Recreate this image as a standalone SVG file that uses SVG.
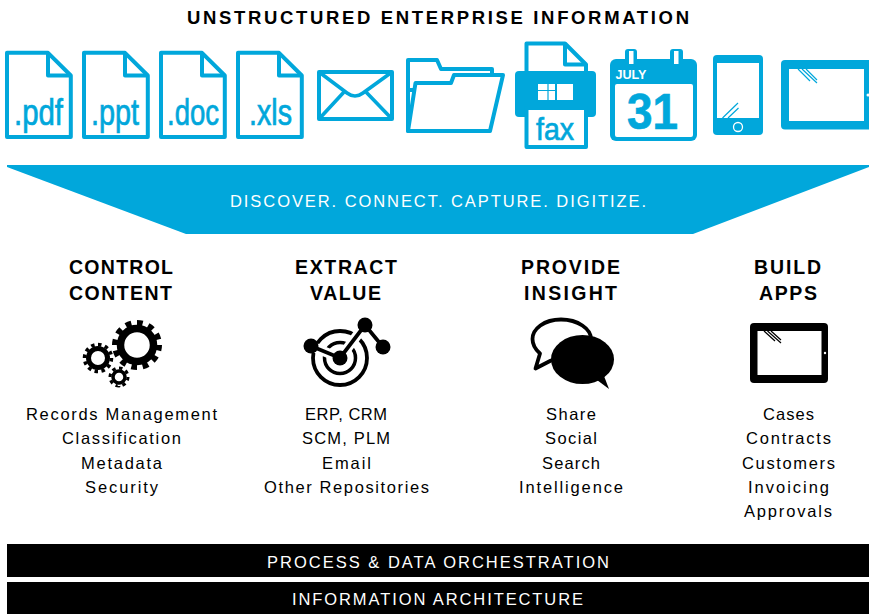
<svg xmlns="http://www.w3.org/2000/svg" width="869" height="614" viewBox="0 0 869 614">
<style>
text{font-family:"Liberation Sans",Arial,sans-serif}
.fill{fill:#01a7db}
.ol{fill:#fff;stroke:#01a7db;stroke-width:4;stroke-linejoin:round}
.gl{fill:none;stroke:#01a7db;stroke-width:1.2}
.ft{fill:#01a7db;font-size:36px;stroke:#01a7db;stroke-width:.7}
.t{font-size:18.5px;font-weight:700;fill:#000}
.h{font-size:19.5px;font-weight:700;fill:#000}
.b{font-size:16.5px;fill:#000}
.w{fill:#fff;font-size:16.5px}
.gw{fill:none;stroke:#fff}
.k{fill:#000}
.kl{fill:none;stroke:#000}
</style>
<defs>
<path id="doc" class="ol" d="M7 52.800H48L70.800 75.500V137H7Z"/>
<path id="fold" fill="none" stroke="#01a7db" stroke-width="4" stroke-linejoin="round" d="M48 52.800V75.500H70.800"/>
</defs>
<rect width="869" height="614" fill="#fff"/>
<text id="title" class="t" x="187" y="23.500" textLength="502">UNSTRUCTURED ENTERPRISE INFORMATION</text>

<g id="file-pdf"><use href="#doc"/><use href="#fold"/><text class="ft" x="14" y="125" textLength="49" lengthAdjust="spacingAndGlyphs">.pdf</text></g>
<g id="file-ppt"><use href="#doc" x="77"/><use href="#fold" x="77"/><text class="ft" x="91" y="125" textLength="48" lengthAdjust="spacingAndGlyphs">.ppt</text></g>
<g id="file-doc"><use href="#doc" x="154"/><use href="#fold" x="154"/><text class="ft" x="167" y="125" textLength="52" lengthAdjust="spacingAndGlyphs">.doc</text></g>
<g id="file-xls"><use href="#doc" x="231"/><use href="#fold" x="231"/><text class="ft" x="249" y="125" textLength="43" lengthAdjust="spacingAndGlyphs">.xls</text></g>

<g id="email">
<rect class="ol" x="319" y="72" width="73" height="47"/>
<path fill="none" stroke="#01a7db" stroke-width="3.600" d="M319 72L347 93Q355 99 363 93L392 72M319 119L344 92M392 119L366 92"/>
</g>

<g id="folder">
<path class="ol" d="M408 131V60H437L441 69H492V90H408Z"/>
<path class="ol" d="M408 131L415.500 83H451L454 75H503L490 131Z"/>
</g>

<g id="fax">
<path class="ol" d="M526.500 43.500H565L586 64.500V80H526.500Z"/>
<path fill="none" stroke="#01a7db" stroke-width="4" stroke-linejoin="round" d="M565 43.500V64.500H586"/>
<rect class="fill" x="515" y="71" width="81" height="46" rx="4"/>
<rect class="ol" x="526.500" y="108" width="59.500" height="39"/>
<rect x="538" y="84" width="17" height="16" fill="#fff"/>
<path stroke="#01a7db" stroke-width="1.200" d="M548 84V100M538 90.500H555"/>
<rect x="557" y="84" width="16" height="16" fill="#fff"/>
<text class="ft" x="536" y="140" style="font-size:32px" textLength="38" lengthAdjust="spacingAndGlyphs">fax</text>
</g>

<g id="calendar">
<rect class="fill" x="625" y="49" width="12" height="20" rx="3"/>
<rect class="fill" x="670" y="49" width="13" height="20" rx="3"/>
<rect class="fill" x="610" y="59" width="87" height="82" rx="6"/>
<rect x="629" y="51" width="4.500" height="13" fill="#fff"/>
<rect x="674" y="51" width="4.500" height="13" fill="#fff"/>
<rect x="615" y="84" width="78" height="53" rx="2" fill="#fff"/>
<text x="615.500" y="79" fill="#fff" font-weight="700" style="font-size:13.500px" textLength="31" lengthAdjust="spacingAndGlyphs">JULY</text>
<text x="627" y="129" class="ft" font-weight="700" style="font-size:50px" textLength="51" lengthAdjust="spacingAndGlyphs">31</text>
</g>

<g id="phone">
<rect class="fill" x="713" y="55" width="50" height="80" rx="4"/>
<rect x="717" y="63" width="42" height="55" fill="#fff"/>
<circle cx="738" cy="127" r="4.500" fill="none" stroke="#fff" stroke-width="1.300"/>
<path class="gl" d="M722.500 118L738 103M728 118L738.500 108"/>
</g>

<g id="tablet">
<rect class="fill" x="781" y="60" width="100" height="69.500" rx="4"/>
<rect x="789" y="69" width="75" height="52" fill="#fff"/>
<circle cx="868" cy="95" r="1.500" fill="#fff"/>
<path class="gl" d="M798 69L810 81M802 69L817 83M806 69L817 80"/>
</g>

<g id="funnel">
<path class="fill" d="M7 165H869V167L693 234H186L7 167Z"/>
<text class="w" x="230" y="207" textLength="416">DISCOVER. CONNECT. CAPTURE. DIGITIZE.</text>
</g>

<g id="control-content">
<text class="h" x="69" y="274" textLength="104">CONTROL</text>
<text class="h" x="69" y="300" textLength="103">CONTENT</text>
<g id="gears" class="k">
<circle class="kl" cx="137" cy="345" r="16.500" stroke-width="7.500"/>
<circle class="kl" cx="137" cy="345" r="22" stroke-width="6" pathLength="24" stroke-dasharray="1 1"/>
<circle class="kl" cx="98" cy="358" r="9.500" stroke-width="5"/>
<circle class="kl" cx="98" cy="358" r="13.500" stroke-width="3.500" pathLength="24" stroke-dasharray="1 1"/>
<circle class="kl" cx="119" cy="377" r="6" stroke-width="3.500"/>
<circle class="kl" cx="119" cy="377" r="9" stroke-width="3" pathLength="16" stroke-dasharray="1 1"/>
</g>
<text class="b" x="26" y="420" textLength="191">Records Management</text>
<text class="b" x="62" y="444" textLength="119">Classification</text>
<text class="b" x="81" y="469" textLength="81">Metadata</text>
<text class="b" x="85" y="493" textLength="73">Security</text>
</g>

<g id="extract-value">
<text class="h" x="295" y="274" textLength="102">EXTRACT</text>
<text class="h" x="310" y="300" textLength="71">VALUE</text>
<g id="target">
<circle class="kl" cx="340" cy="358" r="27" stroke-width="3.800"/>
<circle class="kl" cx="340" cy="358" r="15.500" stroke-width="3.500"/>
<path class="gw" stroke-width="10" d="M311 346L340 358L365 325"/>
<path class="kl" stroke-width="3.800" d="M311 346L340 358L365 325L383 347"/>
<circle class="k" cx="340" cy="358" r="7.500"/>
<circle class="k" cx="311" cy="346" r="7.500"/>
<circle class="k" cx="365" cy="325" r="7.500"/>
<circle class="k" cx="383" cy="347" r="7.500"/>
</g>
<text class="b" x="305" y="420" textLength="82">ERP, CRM</text>
<text class="b" x="302" y="444" textLength="88">SCM, PLM</text>
<text class="b" x="322" y="469" textLength="49">Email</text>
<text class="b" x="264" y="493" textLength="165">Other Repositories</text>
</g>

<g id="provide-insight">
<text class="h" x="521" y="274" textLength="99">PROVIDE</text>
<text class="h" x="524" y="300" textLength="93">INSIGHT</text>
<g id="bubbles">
<path fill="#fff" stroke="#000" stroke-width="3.800" stroke-linejoin="round" d="M561 319.500C544 319.500 532.500 329 532.500 339C532.500 345 536 350 540 353.500L535.500 368.500L551 360.500C554 360 558 358.500 561 358.500C578 358.500 591 350 591 339C591 329 578 319.500 561 319.500Z"/>
<ellipse class="k" cx="582.500" cy="359.500" rx="31.500" ry="24.500"/>
<path class="k" d="M597 380L609 389L604 376Z"/>
</g>
<text class="b" x="546" y="420" textLength="50">Share</text>
<text class="b" x="545" y="444" textLength="52">Social</text>
<text class="b" x="542" y="469" textLength="58">Search</text>
<text class="b" x="519" y="493" textLength="104">Intelligence</text>
</g>

<g id="build-apps">
<text class="h" x="754" y="274" textLength="67">BUILD</text>
<text class="h" x="759" y="300" textLength="58">APPS</text>
<g id="black-tablet">
<rect class="k" x="750" y="323" width="78" height="60" rx="4"/>
<rect x="757.500" y="331" width="64" height="44" fill="#fff"/>
<circle cx="825" cy="353" r="1.200" fill="#fff"/>
<path class="kl" stroke-width="1.200" d="M764 331L775 341M767.500 331L781 343M771 331L781 340"/>
</g>
<text class="b" x="763" y="420" textLength="51">Cases</text>
<text class="b" x="746" y="444" textLength="85">Contracts</text>
<text class="b" x="742" y="469" textLength="93">Customers</text>
<text class="b" x="748" y="493" textLength="81">Invoicing</text>
<text class="b" x="744" y="517" textLength="88">Approvals</text>
</g>

<g id="process-data-orchestration">
<rect class="k" x="7" y="544" width="862" height="33"/>
<text class="w" x="267" y="568" textLength="342">PROCESS &amp; DATA ORCHESTRATION</text>
</g>
<g id="information-architecture">
<rect class="k" x="7" y="582" width="862" height="32"/>
<text class="w" x="292" y="605" textLength="291">INFORMATION ARCHITECTURE</text>
</g>
<g id="connectors"/>
</svg>
